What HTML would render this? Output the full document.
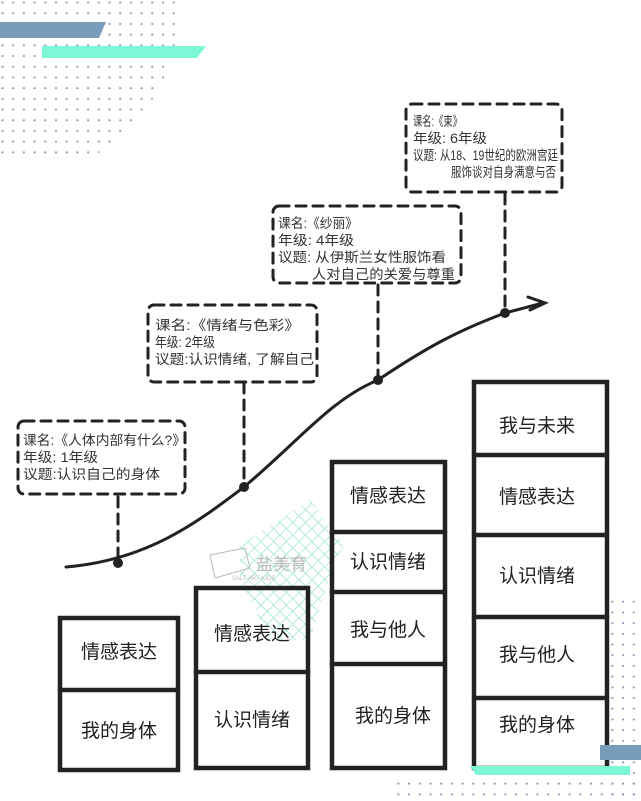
<!DOCTYPE html>
<html><head><meta charset="utf-8"><style>
html,body{margin:0;padding:0;background:#fff;width:641px;height:801px;overflow:hidden}
svg{display:block}
.s{font-family:"Liberation Sans","Noto Sans CJK SC",sans-serif;font-size:13.5px;fill:#333}
.b{font-family:"Liberation Sans","Noto Sans CJK SC",sans-serif;font-size:19px;fill:#222}
</style></head><body>
<svg width="641" height="801" viewBox="0 0 641 801" xmlns="http://www.w3.org/2000/svg">
<defs>
<pattern id="dots" width="10.7" height="10.7" patternUnits="userSpaceOnUse">
<circle cx="2.5" cy="2.5" r="1.1" fill="#8e9cc2"/>
</pattern>
<pattern id="grid" width="9" height="9" patternUnits="userSpaceOnUse" patternTransform="rotate(45)">
<path d="M0 0H9M0 0V9" stroke="#8fe0c8" stroke-width="1.4" fill="none"/>
</pattern>
<clipPath id="cq"><circle cx="0" cy="0" r="182"/></clipPath>
</defs>
<rect x="0" y="0" width="182" height="162" fill="url(#dots)" clip-path="url(#cq)"/>
<polygon points="0,22 106,22 99,38 0,38" fill="#7a9cbc"/>
<polygon points="42,46 206,46 197,58 42,58" fill="#7ef7d7"/>
<rect x="603" y="600" width="38" height="201" fill="url(#dots)"/>
<rect x="393" y="780" width="248" height="21" fill="url(#dots)"/>
<polygon points="240,545 310,500 345,545 335,560 310,640 270,640 240,580" fill="url(#grid)" opacity="0.9"/>
<g fill="none" stroke="#222" stroke-linecap="round">
<path d="M66,567 C150,560 200,520 244,487 C300,440 330,400 378,380 C430,345 460,330 505,313 L543,303" stroke-width="3"/>
<path d="M528,297 L545,303 L530,310" stroke-width="3"/>
<g stroke-width="3" stroke-dasharray="10,7">
<rect x="18" y="421" width="167" height="73" rx="6"/>
<rect x="148" y="305" width="169" height="77" rx="6"/>
<rect x="273" y="206" width="188" height="77" rx="6"/>
<rect x="406" y="104" width="156" height="88" rx="6"/>
<path d="M118,497V560M244,383V485M378,285V378M505,194V311"/>
</g>
<g stroke-width="4.5">
<rect x="60" y="618" width="118" height="152"/><path d="M60,690H178"/>
<rect x="196" y="588" width="112" height="180"/><path d="M196,672H308"/>
<rect x="332" y="462" width="113" height="306"/><path d="M332,532H445M332,592H445M332,664H445"/>
<rect x="474" y="382" width="133" height="386"/><path d="M474,455H607M474,535H607M474,617H607M474,698H607"/>
</g>
</g>
<g fill="#222"><circle cx="118" cy="563" r="5"/><circle cx="244" cy="487" r="5"/><circle cx="378" cy="380" r="5"/><circle cx="505" cy="313" r="5"/></g>
<polygon points="600,745 641,745 641,760 600,760" fill="#7a9cbc"/>
<polygon points="470,766 630,766 630,775 476,775" fill="#7ef7d7"/>
<g fill="#bbb" font-family="Liberation Sans,Noto Sans CJK SC,sans-serif">
<path d="M210,555 L245,548 L250,568 L215,578 Z" fill="none" stroke="#bbb"/>
<text x="256" y="570" font-size="17">盐美育</text>
<text x="232" y="580" font-size="6">SALT ART KIDS</text>
</g>
<g class="s" lengthAdjust="spacingAndGlyphs">
<text x="23" y="445" textLength="163" lengthAdjust="spacingAndGlyphs">课名:《人体内部有什么?》</text><text x="23" y="462" textLength="75" lengthAdjust="spacingAndGlyphs">年级: 1年级</text><text x="23" y="479" textLength="137" lengthAdjust="spacingAndGlyphs">议题:认识自己的身体</text>
<text x="155" y="330" textLength="145" lengthAdjust="spacingAndGlyphs">课名:《情绪与色彩》</text><text x="155" y="347" textLength="60" lengthAdjust="spacingAndGlyphs">年级: 2年级</text><text x="155" y="364" textLength="159" lengthAdjust="spacingAndGlyphs">议题:认识情绪, 了解自己</text>
<text x="278" y="228" textLength="80" lengthAdjust="spacingAndGlyphs">课名:《纱丽》</text><text x="278" y="245" textLength="76" lengthAdjust="spacingAndGlyphs">年级: 4年级</text><text x="278" y="262" textLength="168" lengthAdjust="spacingAndGlyphs">议题: 从伊斯兰女性服饰看</text><text x="312" y="279" textLength="143" lengthAdjust="spacingAndGlyphs">人对自己的关爱与尊重</text>
<text x="413" y="126" textLength="49" lengthAdjust="spacingAndGlyphs">课名:《束》</text><text x="413" y="143" textLength="74" lengthAdjust="spacingAndGlyphs">年级: 6年级</text><text x="413" y="160" textLength="145" lengthAdjust="spacingAndGlyphs">议题: 从18、19世纪的欧洲宫廷</text><text x="451" y="177" textLength="105" lengthAdjust="spacingAndGlyphs">服饰谈对自身满意与否</text>
</g>
<g class="b" text-anchor="middle">
<text x="119" y="658">情感表达</text><text x="119" y="737">我的身体</text>
<text x="252" y="640">情感表达</text><text x="252" y="726">认识情绪</text>
<text x="388" y="502">情感表达</text><text x="388" y="568">认识情绪</text><text x="388" y="636">我与他人</text><text x="393" y="722">我的身体</text>
<text x="537" y="432">我与未来</text><text x="537" y="503">情感表达</text><text x="537" y="582">认识情绪</text><text x="537" y="661">我与他人</text><text x="537" y="731">我的身体</text>
</g>
</svg>
</body></html>
